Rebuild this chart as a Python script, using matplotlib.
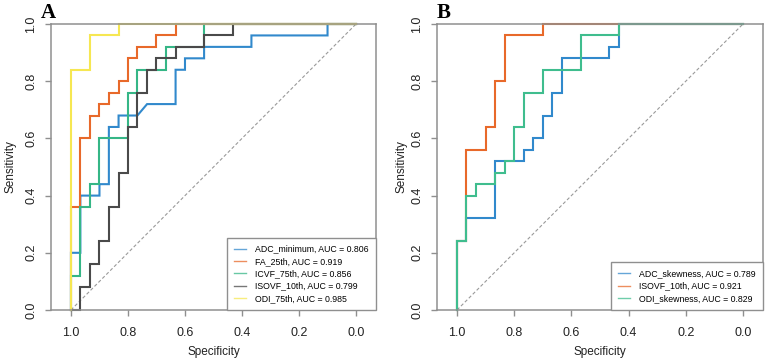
import matplotlib
matplotlib.use("Agg")
import matplotlib.pyplot as plt

plt.rcParams['font.family'] = ['Liberation Sans', 'DejaVu Sans']

# ROC curve vertices (specificity, sensitivity)
# panel A
adc_min_spec = [1, 1, 0.967, 0.967, 0.9, 0.9, 0.867, 0.867, 0.833, 0.833, 0.767, 0.733,
                0.633, 0.633, 0.6, 0.6, 0.533, 0.533, 0.367, 0.367, 0.1, 0.1, 0]
adc_min_sens = [0, 0.2, 0.2, 0.4, 0.4, 0.44, 0.44, 0.64, 0.64, 0.68, 0.68, 0.72,
                0.72, 0.84, 0.84, 0.88, 0.88, 0.92, 0.92, 0.96, 0.96, 1, 1]
fa25_spec = [1, 1, 0.967, 0.967, 0.933, 0.933, 0.9, 0.9, 0.867, 0.867, 0.833, 0.833,
             0.8, 0.8, 0.767, 0.767, 0.7, 0.7, 0.633, 0.633, 0]
fa25_sens = [0, 0.36, 0.36, 0.6, 0.6, 0.68, 0.68, 0.72, 0.72, 0.76, 0.76, 0.8,
             0.8, 0.88, 0.88, 0.92, 0.92, 0.96, 0.96, 1, 1]
icvf75_spec = [1, 1, 0.967, 0.967, 0.933, 0.933, 0.9, 0.9, 0.8, 0.8, 0.767, 0.767,
               0.667, 0.667, 0.533, 0.533, 0]
icvf75_sens = [0, 0.12, 0.12, 0.36, 0.36, 0.44, 0.44, 0.6, 0.6, 0.76, 0.76, 0.84,
               0.84, 0.92, 0.92, 1, 1]
isovf10_spec = [1, 0.967, 0.967, 0.933, 0.933, 0.9, 0.9, 0.867, 0.867, 0.833, 0.833,
                0.8, 0.8, 0.767, 0.767, 0.733, 0.733, 0.7, 0.7, 0.633, 0.633,
                0.533, 0.533, 0.433, 0.433, 0]
isovf10_sens = [0, 0, 0.08, 0.08, 0.16, 0.16, 0.24, 0.24, 0.36, 0.36, 0.48,
                0.48, 0.64, 0.64, 0.76, 0.76, 0.84, 0.84, 0.88, 0.88, 0.92,
                0.92, 0.96, 0.96, 1, 1]
odi75_spec = [1, 1, 0.933, 0.933, 0.833, 0.833, 0]
odi75_sens = [0, 0.84, 0.84, 0.96, 0.96, 1, 1]

# panel B
adc_skew_spec = [1, 1, 0.967, 0.967, 0.867, 0.867, 0.767, 0.767, 0.733, 0.733, 0.7, 0.7,
                 0.667, 0.667, 0.633, 0.633, 0.467, 0.467, 0.433, 0.433, 0]
adc_skew_sens = [0, 0.24, 0.24, 0.32, 0.32, 0.52, 0.52, 0.56, 0.56, 0.6, 0.6, 0.68,
                 0.68, 0.76, 0.76, 0.88, 0.88, 0.92, 0.92, 1, 1]
isovf10b_spec = [1, 1, 0.967, 0.967, 0.9, 0.9, 0.867, 0.867, 0.833, 0.833, 0.7, 0.7, 0]
isovf10b_sens = [0, 0.24, 0.24, 0.56, 0.56, 0.64, 0.64, 0.8, 0.8, 0.96, 0.96, 1, 1]
odi_skew_spec = [1, 1, 0.967, 0.967, 0.933, 0.933, 0.867, 0.867, 0.833, 0.833, 0.8, 0.8,
                 0.767, 0.767, 0.7, 0.7, 0.567, 0.567, 0.433, 0.433, 0]
odi_skew_sens = [0, 0.24, 0.24, 0.4, 0.4, 0.44, 0.44, 0.48, 0.48, 0.52, 0.52, 0.64,
                 0.64, 0.76, 0.76, 0.84, 0.84, 0.96, 0.96, 1, 1]

labels_a = ["ADC_minimum, AUC = 0.806", "FA_25th, AUC = 0.919", "ICVF_75th, AUC = 0.856",
            "ISOVF_10th, AUC = 0.799", "ODI_75th, AUC = 0.985"]
labels_b = ["ADC_skewness, AUC = 0.789", "ISOVF_10th, AUC = 0.921", "ODI_skewness, AUC = 0.829"]
ticks = [1.0, 0.8, 0.6, 0.4, 0.2, 0.0]

blue = "#3189cc"
orange = "#e8692a"
green = "#35b686"
black = "#4a4a4a"
yellow = "#f6e752"
green_b = "#3fbd8e"
gray = "#8f8f8f"

curves_a = [(adc_min_spec, adc_min_sens, blue), (fa25_spec, fa25_sens, orange),
            (icvf75_spec, icvf75_sens, green), (isovf10_spec, isovf10_sens, black),
            (odi75_spec, odi75_sens, yellow)]
curves_b = [(adc_skew_spec, adc_skew_sens, blue), (isovf10b_spec, isovf10b_sens, orange),
            (odi_skew_spec, odi_skew_sens, green_b)]

fig = plt.figure(figsize=(7.67, 3.63), dpi=100)
ax_a = fig.add_axes([51 / 767, 53 / 363, 325 / 767, 286 / 363])
ax_b = fig.add_axes([437 / 767, 53 / 363, 326 / 767, 286 / 363])


def draw_panel(ax, curves, labels, ylab_x):
    ax.plot([1, 0], [0, 1], color="#9a9a9a", lw=0.8, ls=(0, (3, 2)))
    for (sp, se, c), lab in zip(curves, labels):
        ax.plot(sp, se, color=c, lw=1.5, label=lab, clip_on=False, solid_joinstyle="miter")
    ax.set_xlim(1.07, -0.07)
    ax.set_ylim(0, 1)
    ax.set_xticks(ticks)
    ax.set_yticks(ticks)
    ax.set_xticklabels(["%.1f" % t for t in ticks])
    ax.set_yticklabels(["%.1f" % t for t in ticks], rotation=90, va="center")
    for s in ax.spines.values():
        s.set_color(gray)
        s.set_linewidth(1.1)
    ax.tick_params(colors=gray, length=4, width=1.0, labelsize=9, labelcolor="#222222", pad=6)
    ax.tick_params(axis="x", pad=8)
    ax.set_xlabel("Specificity", fontsize=8.5, color="#222222")
    ax.set_ylabel("Sensitivity", fontsize=8.5, color="#222222")
    ax.xaxis.set_label_coords(0.5, -0.125)
    ax.yaxis.set_label_coords(ylab_x, 0.5)
    leg = ax.legend(loc="lower right", borderaxespad=0, fontsize=6.3, fancybox=False,
                    framealpha=1, edgecolor=gray, handlelength=1.35, handletextpad=1.1,
                    labelspacing=0.38, borderpad=0.8)
    leg.get_frame().set_linewidth(1.0)
    for line in leg.get_lines():
        line.set_linewidth(1.0)
        line.set_alpha(0.75)


draw_panel(ax_a, curves_a, labels_a, -0.105)
draw_panel(ax_b, curves_b, labels_b, -0.089)

fig.text(48 / 767, 1 - 13 / 363, "A", fontsize=15, fontweight="bold",
         family="Liberation Serif", ha="center", va="center")
fig.text(444 / 767, 1 - 13 / 363, "B", fontsize=15, fontweight="bold",
         family="Liberation Serif", ha="center", va="center")

fig.savefig("out.png", dpi=100)
